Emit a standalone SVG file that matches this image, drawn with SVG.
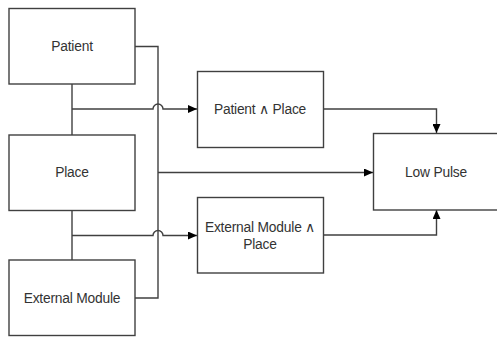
<svg xmlns="http://www.w3.org/2000/svg" width="497" height="338" viewBox="0 0 497 338">
<style>
.box{fill:#fff;stroke:#404040;stroke-width:1.4}
.t{font-family:"Liberation Sans",Arial,sans-serif;font-size:13.8px;fill:#333;text-anchor:middle;letter-spacing:-0.2px}
.c{fill:none;stroke:#404040;stroke-width:1.4}
</style>
<defs>
<marker id="ah" markerWidth="10" markerHeight="8" refX="9" refY="4" orient="auto" markerUnits="userSpaceOnUse">
<path d="M0,0 L9,4 L0,8 Z" fill="#000"/>
</marker>
</defs>
<rect width="497" height="338" fill="#fff"/>
<g id="connectors">
<path class="c" d="M135,46.5 H158 V298 H135"/>
<path class="c" d="M72,84 V135"/>
<path class="c" d="M72,210.5 V260"/>
<path class="c" d="M72,109 H153 A5,5 0 0 1 163,109 H197" marker-end="url(#ah)"/>
<path class="c" d="M72,235.5 H153 A5,5 0 0 1 163,235.5 H197" marker-end="url(#ah)"/>
<path class="c" d="M158,172.5 H373" marker-end="url(#ah)"/>
<path class="c" d="M323,109 H436.5 V133" marker-end="url(#ah)"/>
<path class="c" d="M323,235 H436.5 V210" marker-end="url(#ah)"/>
</g>
<g id="patient">
<rect class="box" x="9" y="8.5" width="126" height="75.5"/>
<text class="t" x="72" y="51">Patient</text>
</g>
<g id="place">
<rect class="box" x="9" y="135" width="126" height="75.5"/>
<text class="t" x="72" y="177">Place</text>
</g>
<g id="external-module">
<rect class="box" x="9" y="260" width="126" height="75.5"/>
<text class="t" x="72" y="302.5">External Module</text>
</g>
<g id="patient-place">
<rect class="box" x="197.5" y="71.5" width="126" height="76"/>
<text class="t" x="260" y="113.5">Patient  ∧ Place</text>
</g>
<g id="external-place">
<rect class="box" x="197.5" y="197.5" width="126" height="75.5"/>
<text class="t" x="260" y="231.5">External Module ∧</text>
<text class="t" x="260" y="248.5">Place</text>
</g>
<g id="low-pulse">
<rect class="box" x="373.5" y="133.5" width="126" height="76.5"/>
<text class="t" x="436" y="177">Low Pulse</text>
</g>
</svg>
